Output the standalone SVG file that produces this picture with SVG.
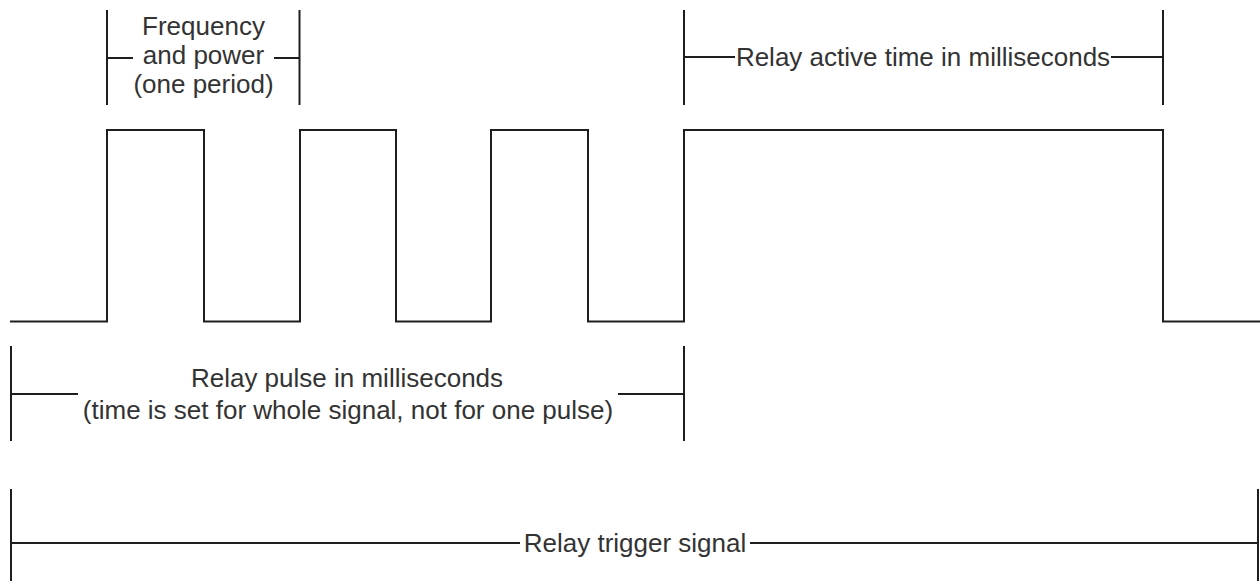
<svg xmlns="http://www.w3.org/2000/svg" width="1260" height="586" viewBox="0 0 1260 586">
<style>
.ln{fill:none;stroke:#1e1e1e;stroke-width:2;stroke-linecap:square}
.tx{font-family:"Liberation Sans",Arial,sans-serif;font-size:26px;fill:#333;text-anchor:middle}
</style>
<rect width="1260" height="586" fill="#fff"/>
<g id="connectors">
<path id="waveform" class="ln" d="M11,321.5 H107 V130 H204 V321.5 H300 V130 H396 V321.5 H491 V130 H588 V321.5 H684 V130 H1163 V321.5 H1259"/>
</g>
<g id="freq">
<path class="ln" d="M107,11 V104 M107,58 H132 M299.5,11 V104 M275,58 H299.5"/>
<text class="tx" x="203.5" y="35">Frequency</text>
<text class="tx" x="203.5" y="64">and power</text>
<text class="tx" x="203.5" y="93">(one period)</text>
</g>
<g id="active">
<path class="ln" d="M684,11 V104 M684,57 H734 M1163,11 V104 M1112,57 H1163"/>
<text class="tx" x="923" y="66">Relay active time in milliseconds</text>
</g>
<g id="pulse">
<path class="ln" d="M11,347 V440 M11,394 H77 M684,347 V440 M619,394 H684"/>
<text class="tx" x="347" y="387">Relay pulse in milliseconds</text>
<text class="tx" x="348" y="419">(time is set for whole signal, not for one pulse)</text>
</g>
<g id="trigger">
<path class="ln" d="M11,490 V580 M11,543 H519 M1258,490 V580 M751,543 H1258"/>
<text class="tx" x="635" y="552">Relay trigger signal</text>
</g>
</svg>
